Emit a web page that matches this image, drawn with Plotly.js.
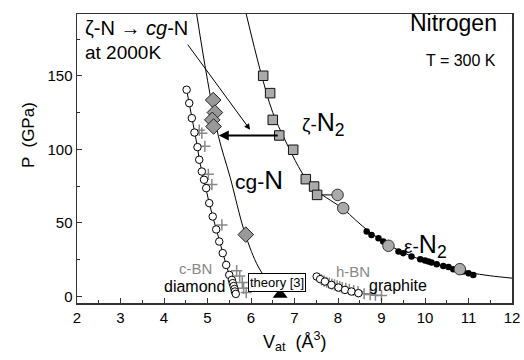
<!DOCTYPE html>
<html>
<head>
<meta charset="utf-8">
<script src="https://cdn.plot.ly/plotly-3.0.1.min.js"></script>
<style>html,body{margin:0;padding:0;background:#fff;}#chart{width:524px;height:360px;}</style>
</head>
<body>
<div id="chart"></div>
<script>
// ---- data ----
// diamond (open circles, connected)
const diamondV = [4.52,4.58,4.64,4.70,4.77,4.81,4.87,4.92,4.97,5.04,5.12,5.20,5.27,5.35,5.43,5.50,5.56,5.58,5.60,5.62,5.63,5.65];
const diamondP = [140.5,131.4,121.2,111.4,101.5,92.9,84.9,79.3,73.6,63.4,54.3,45.5,37.3,29.4,21.4,14.6,11.2,9.0,7.0,5.0,3.3,1.7];
// c-BN (gray crosses)
const cbnV = [4.81,4.87,4.94,5.02,5.10,5.33,5.67,5.74,5.80,5.83,5.89];
const cbnP = [113,111,102,83,76,48.6,17.5,13.8,9.5,5.5,2.6];
// graphite (open circles, connected)
const graphV = [7.51,7.59,7.70,7.85,8.01,8.16,8.31,8.47];
const graphP = [13.5,11.7,10.1,7.8,6.0,4.4,3.3,2.2];
// h-BN (gray crosses)
const hbnV = [7.62,7.68,7.74,7.80,7.86,7.92,7.98,8.04,8.10,8.18,8.26,8.36,8.46,8.60,8.74,8.86,9.00];
const hbnP = [11.2,10.4,9.6,9.0,8.4,7.8,7.2,6.6,6.0,5.4,4.8,4.0,3.2,1.8,1.2,0.8,0.6];
// cg-N experimental points (diamonds)
const cgnV = [5.13,5.17,5.11,5.14,5.88];
const cgnP = [133.5,125,120,115.5,42];
// zeta-N2 (squares)
const zetaV = [6.28,6.44,6.50,6.65,6.97,7.26,7.45,7.52];
const zetaP = [150,138.2,120,109.4,99.7,79.7,74.7,69];
// epsilon-N2 large gray circles
const epsGrayV = [7.99,8.12,9.16,10.80];
const epsGrayP = [69,60,34.4,18.5];
// epsilon-N2 small black circles
const epsV = [8.66,8.77,8.93,9.04,9.39,9.50,9.69,9.89,10.00,10.08,10.15,10.27,10.42,10.54,10.65,10.88,11.00,11.11];
const epsP = [44.1,41.8,39.6,37.3,30.5,29.4,27.1,25.3,24.4,23.7,23.0,21.9,20.7,19.9,18.5,16.9,15.8,14.6];
// theory [3]
const theoryV = [6.67];
const theoryP = [1.2];
// fitted curves
const cgnCurveV = [4.75,5.00,5.25,5.52,5.86,6.17,6.45,6.70];
const cgnCurveP = [192,147,109,81,43,20,8,0];
const n2CurveV = [5.89,6.21,6.50,6.78,7.09,7.26,7.45,7.74,8.12,8.40,8.72,9.06,9.45,10.0,10.5,11.0,11.5,12.0];
const n2CurveP = [192,154,125,106.5,88.3,80,73,67,59.5,52,44,37,30.5,24,20,16.3,14,12.4];
// horizontal link between last square and first gray circle
const linkV = [7.52,7.99];
const linkP = [69,69];
// axis ticks
const xTicks = [2,3,4,5,6,7,8,9,10,11,12];
const yTicks = [0,50,100,150];

const FONT = 'Liberation Sans, Arial, Helvetica, sans-serif';

const traces = [
  {x: cgnCurveV, y: cgnCurveP, mode:'lines', line:{color:'#000', width:1, shape:'spline', smoothing:1}, hoverinfo:'skip'},
  {x: n2CurveV, y: n2CurveP, mode:'lines', line:{color:'#000', width:1, shape:'spline', smoothing:1}, hoverinfo:'skip'},
  {x: linkV, y: linkP, mode:'lines', line:{color:'#000', width:1}},
  {x: cbnV, y: cbnP, mode:'markers', marker:{symbol:'cross-thin', size:8, line:{color:'#888', width:1.5}}},
  {x: hbnV, y: hbnP, mode:'markers', marker:{symbol:'cross-thin', size:8, line:{color:'#888', width:1.5}}},
  {x: diamondV, y: diamondP, mode:'lines+markers', line:{color:'#000', width:1},
   marker:{symbol:'circle', size:7.5, color:'#fff', line:{color:'#000', width:1}}},
  {x: graphV, y: graphP, mode:'lines+markers', line:{color:'#000', width:1},
   marker:{symbol:'circle', size:7.5, color:'#fff', line:{color:'#000', width:1}}},
  {x: cgnV, y: cgnP, mode:'markers', marker:{symbol:'diamond', size:12, color:'#999', line:{color:'#222', width:1}}},
  {x: zetaV, y: zetaP, mode:'markers', marker:{symbol:'square', size:9.5, color:'#aaa', line:{color:'#111', width:1}}},
  {x: epsV, y: epsP, mode:'markers', marker:{symbol:'circle', size:6.5, color:'#000'}},
  {x: epsGrayV, y: epsGrayP, mode:'markers', marker:{symbol:'circle', size:11.5, color:'#aaa', line:{color:'#333', width:1}}},
  {x: theoryV, y: theoryP, mode:'markers', marker:{symbol:'triangle-up', size:13, color:'#000'}}
];

// pixel -> paper helpers (plot area 77..512 x, 14..303 y)
const PL=77, PR=512, PT=14, PB=303;
const px = v => (v-PL)/(PR-PL);
const py = v => (PB-v)/(PB-PT);

function txt(text, x, y, size, opts){
  return Object.assign({text:text, xref:'paper', yref:'paper', x:px(x), y:py(y), showarrow:false,
    xanchor:'left', yanchor:'middle', font:{family:FONT, size:size, color:'#000'}}, opts||{});
}

const annotations = [
  txt('ζ-N → <i>cg</i>-N', 83, 28, 20),
  txt('at 2000K', 83, 53, 19),
  txt('Nitrogen', 499, 23, 23, {xanchor:'right'}),
  txt('T = 300 K', 498, 60, 16, {xanchor:'right'}),
  txt('<span style="font-size:19px">ζ-</span>N<sub>2</sub>', 300, 124, 25),
  txt('<span style="font-size:21px">cg-</span>N', 233, 180, 26),
  txt('<span style="font-size:19px">ε-</span>N<sub>2</sub>', 402, 246, 25),
  txt('c-BN', 177, 268, 15, {font:{family:FONT, size:15, color:'#888'}}),
  txt('diamond', 162, 286, 16),
  txt('h-BN', 334, 271, 15, {font:{family:FONT, size:15, color:'#888'}}),
  txt('graphite', 367, 285, 16),
  txt('theory [3]', 277, 282, 13, {xanchor:'center', bgcolor:'#fff', bordercolor:'#000', borderwidth:1, borderpad:1}),
  // x axis title
  {text:'V<sub>at</sub>  (Å<sup>3</sup>)', xref:'paper', yref:'paper', x:0.5, y:py(341), xanchor:'center', yanchor:'middle',
   showarrow:false, font:{family:FONT, size:18, color:'#000'}},
  // y axis title
  {text:'P  (GPa)', xref:'paper', yref:'paper', x:px(28), y:py(135), xanchor:'center', yanchor:'middle',
   textangle:-90, showarrow:false, font:{family:FONT, size:17, color:'#000'}},
  // thin arrow from "at 2000K"
  {x:5.98, y:113.3, ax:4.52, ay:172.2, xref:'x', yref:'y', axref:'x', ayref:'y', text:'', showarrow:true,
   arrowhead:2, arrowsize:1.2, arrowwidth:1, arrowcolor:'#000'},
  // thick arrow zeta -> cg
  {x:5.26, y:109.4, ax:6.65, ay:109.4, xref:'x', yref:'y', axref:'x', ayref:'y', text:'', showarrow:true,
   arrowhead:2, arrowsize:1, arrowwidth:2, arrowcolor:'#000'}
];

const axisCommon = {
  showgrid:false, zeroline:false, showline:true, mirror:true, linecolor:'#333', linewidth:1.5,
  ticks:'inside', ticklen:5, tickwidth:1, tickcolor:'#333',
  tickfont:{family:FONT, size:15, color:'#000'}
};

const layout = {
  width:524, height:360,
  margin:{l:PL, r:524-PR, t:PT, b:360-PB, pad:0},
  paper_bgcolor:'#fff', plot_bgcolor:'#fff',
  showlegend:false,
  font:{family:FONT},
  xaxis: Object.assign({}, axisCommon, {range:[2,12], tickvals:xTicks, ticktext:xTicks.map(String),
    minor:{ticks:'inside', dtick:0.5, tick0:2, ticklen:3, tickcolor:'#333', showgrid:false}}),
  yaxis: Object.assign({}, axisCommon, {range:[-4.5,192], tickvals:yTicks, ticktext:yTicks.map(String),
    minor:{ticks:'inside', dtick:25, tick0:0, ticklen:3, tickcolor:'#333', showgrid:false}}),
  annotations: annotations
};

Plotly.newPlot('chart', traces, layout, {staticPlot:true, displayModeBar:false});
</script>
</body>
</html>
